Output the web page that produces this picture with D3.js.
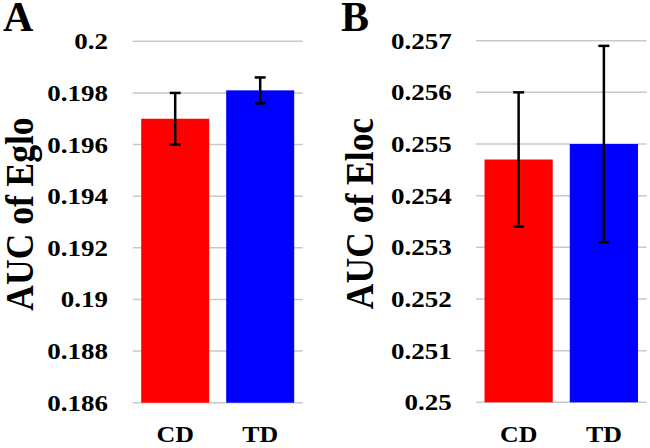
<!DOCTYPE html>
<html>
<head>
<meta charset="utf-8">
<script src="https://cdn.jsdelivr.net/npm/d3@7"></script>
<style>
  html, body { margin: 0; padding: 0; background: #fff; }
  svg { display: block; }
</style>
</head>
<body>
<svg id="chart" width="650" height="448"></svg>
<script>
// ---- Data ----
const categories = ["CD", "TD"];
const barColors = ["#ff0000", "#0000ff"];

const egloMeans = [0.197, 0.1981];
const egloErrors = [0.001, 0.0005];
const egloTicks = [0.186, 0.188, 0.19, 0.192, 0.194, 0.196, 0.198, 0.2];
const egloTickLabels = ["0.186", "0.188", "0.19", "0.192", "0.194", "0.196", "0.198", "0.2"];

const elocMeans = [0.2547, 0.255];
const elocErrors = [0.0013, 0.0019];
const elocTicks = [0.25, 0.251, 0.252, 0.253, 0.254, 0.255, 0.256, 0.257];
const elocTickLabels = ["0.25", "0.251", "0.252", "0.253", "0.254", "0.255", "0.256", "0.257"];

const panelLetters = ["A", "B"];
const yTitles = ["AUC of Eglo", "AUC of Eloc"];

// ---- Drawing ----
const FONT = "'Liberation Serif', 'Times New Roman', Times, serif";
const svg = d3.select("#chart");
const STRETCH = 1.15;
const K = 0.5; // draw small texts at 2x size and scale down

function label(sel, size) {
  return sel.style("font-family", FONT).style("font-weight", "700")
    .style("font-size", size + "px").style("fill", "#000");
}

function drawPanel(opt) {
  const g = svg.append("g");
  const x = d3.scaleBand().domain(categories).range([opt.x0, opt.x1]).paddingInner(0.2).paddingOuter(0.1);
  const y = d3.scaleLinear().domain([opt.ticks[0], opt.ticks[opt.ticks.length - 1]]).range([opt.yBottom, opt.yTop]);

  // gridlines
  g.selectAll("line.grid").data(opt.ticks).enter().append("line")
    .attr("class", "grid")
    .attr("x1", opt.x0).attr("x2", opt.x1)
    .attr("y1", d => y(d)).attr("y2", d => y(d))
    .attr("stroke", "#c9c9c9").attr("stroke-width", 1.5);

  // tick labels
  g.selectAll("text.ylab").data(opt.ticks).enter().append("text")
    .attr("class", "ylab")
    .attr("text-anchor", "end")
    .attr("dy", "0.34em")
    .attr("transform", d => `translate(${opt.labelRight},${y(d)}) scale(${K * STRETCH},${K})`)
    .text((d, i) => opt.tickLabels[i])
    .call(label, 23.5 / K);

  // bars
  const bw = x.bandwidth();
  g.selectAll("rect.bar").data(categories).enter().append("rect")
    .attr("class", "bar")
    .attr("x", d => x(d)).attr("width", bw)
    .attr("y", (d, i) => y(opt.means[i]))
    .attr("height", (d, i) => y(opt.ticks[0]) - y(opt.means[i]))
    .attr("fill", (d, i) => barColors[i]);

  // error bars
  const eb = g.selectAll("g.err").data(categories).enter().append("g").attr("class", "err");
  eb.append("line")
    .attr("x1", d => x(d) + bw / 2).attr("x2", d => x(d) + bw / 2)
    .attr("y1", (d, i) => y(opt.means[i] + opt.errors[i]))
    .attr("y2", (d, i) => y(opt.means[i] - opt.errors[i]))
    .attr("stroke", "#000").attr("stroke-width", 2.5);
  [1, -1].forEach(s => {
    eb.append("line")
      .attr("x1", d => x(d) + bw / 2 - 5.5).attr("x2", d => x(d) + bw / 2 + 5.5)
      .attr("y1", (d, i) => y(opt.means[i] + s * opt.errors[i]))
      .attr("y2", (d, i) => y(opt.means[i] + s * opt.errors[i]))
      .attr("stroke", "#000").attr("stroke-width", 2.5);
  });

  // category labels
  g.selectAll("text.xlab").data(categories).enter().append("text")
    .attr("class", "xlab")
    .attr("text-anchor", "middle")
    .attr("transform", d => `translate(${x(d) + bw / 2},442) scale(${K * STRETCH},${K})`)
    .text(d => d)
    .call(label, 22.5 / K);

  // y title
  g.append("text")
    .attr("text-anchor", "middle")
    .attr("transform", `translate(${opt.titleX},${opt.titleY}) rotate(-90) scale(1,${STRETCH})`)
    .text(opt.title)
    .call(label, 35.5);

  // panel letter
  g.append("text")
    .attr("x", opt.letterX).attr("y", 31)
    .text(opt.letter)
    .call(label, 42);
}

drawPanel({
  x0: 132.7, x1: 302.7, yTop: 41.3, yBottom: 402.7,
  ticks: egloTicks, tickLabels: egloTickLabels,
  means: egloMeans, errors: egloErrors,
  labelRight: 108, titleX: 33.3, titleY: 214, title: yTitles[0],
  letter: panelLetters[0], letterX: 3
});

drawPanel({
  x0: 476, x1: 646.5, yTop: 40.7, yBottom: 402.3,
  ticks: elocTicks, tickLabels: elocTickLabels,
  means: elocMeans, errors: elocErrors,
  labelRight: 451.7, titleX: 373, titleY: 213.5, title: yTitles[1],
  letter: panelLetters[1], letterX: 341
});
</script>
</body>
</html>
